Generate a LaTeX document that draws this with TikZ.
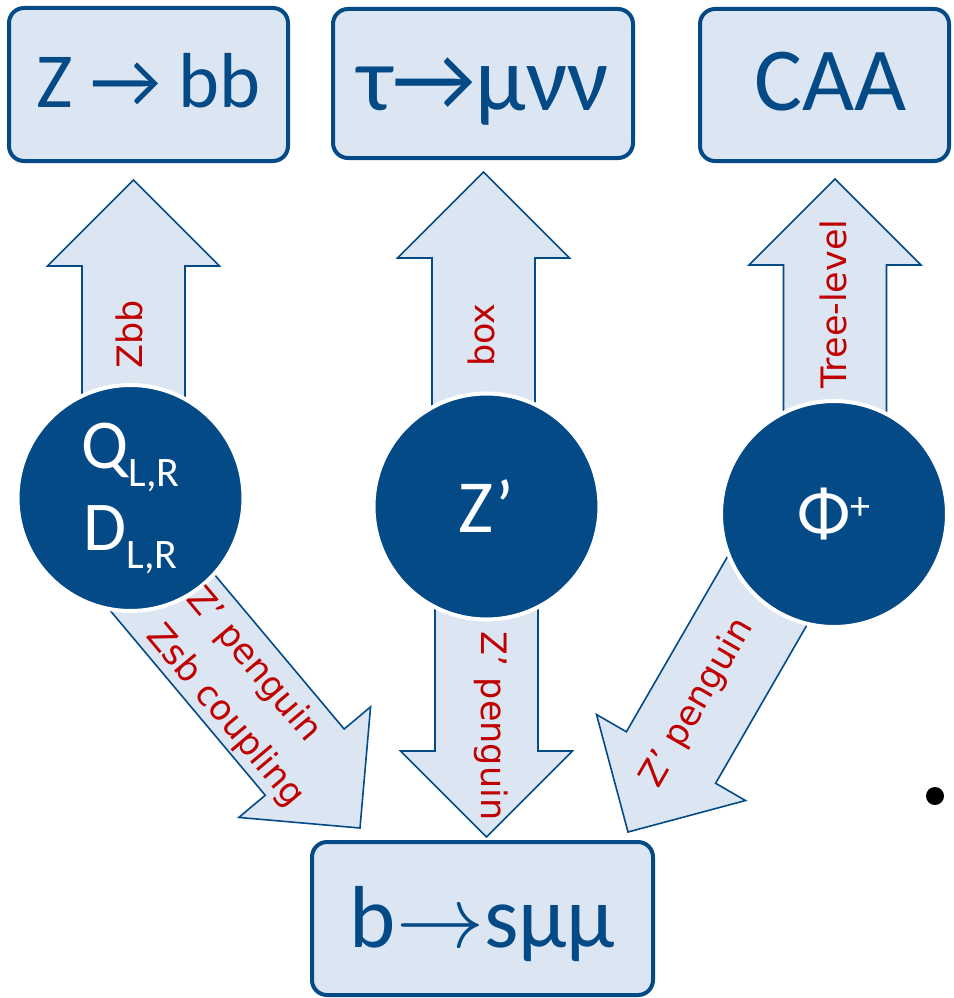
\documentclass[tikz,border=0pt]{standalone}
\usepackage{graphicx}
\usepackage{fontspec}
\setmainfont{Carlito}
\newfontfamily\labfont{DejaVu Sans}
\usetikzlibrary{calc}
\definecolor{dblue}{RGB}{4,74,135}
\definecolor{lblue}{RGB}{220,230,242}
\definecolor{lred}{RGB}{192,0,0}
\pgfdeclarelayer{paper}
\pgfdeclarelayer{bg}
\pgfsetlayers{paper,bg,main}
\newcommand\fatarr[3]{%
  \coordinate (#3hb) at ($(#2)!86pt!(#1)$);
  \draw[blockarrow] ($(#1)!51.5pt!90:(#2)$) -- ($(#3hb)!51.5pt!90:(#2)$)
    -- ($(#3hb)!86pt!90:(#2)$) -- (#2) -- ($(#3hb)!86pt!-90:(#2)$)
    -- ($(#3hb)!51.5pt!-90:(#2)$) -- ($(#1)!51.5pt!-90:(#2)$) -- cycle;
}
\newcommand\bigto{\scalebox{8.8}{\fontsize{10}{12}\selectfont$\rightarrow$}}
\tikzset{
  boxnode/.style={draw=dblue, fill=lblue, line width=4pt, rounded corners=15pt, inner sep=0pt, text=dblue},
  ball/.style={circle, fill=dblue, draw=white, line width=4pt, minimum size=226pt, inner sep=0pt, text=white},
  blockarrow/.style={draw=dblue, fill=lblue, line width=1.6pt, line join=miter},
  lab/.style={text=lred, font=\labfont\fontsize{35}{42}\selectfont, inner sep=0pt},
}
\begin{document}
\begin{tikzpicture}[x=1pt,y=-1pt]
\begin{pgfonlayer}{paper}
  \fill[white] (0,0) rectangle (953,998);
\end{pgfonlayer}
\useasboundingbox (0,0) rectangle (953,998);
% boxes
\node[boxnode, minimum width=279pt, minimum height=153pt, text height=45pt, text depth=0pt,
      font=\fontsize{78}{90}\selectfont] (box1) at (148.5,84.5) {Z → bb};
\node[boxnode, minimum width=300pt, minimum height=149pt, text height=53pt, text depth=0pt,
      font=\fontsize{92}{100}\selectfont] (box2) at (483,83.5) {τ→μνν};
\node[boxnode, minimum width=249pt, minimum height=152pt, text height=50pt, text depth=0pt,
      font=\fontsize{90}{100}\selectfont] (box3) at (824.5,85) {\kern12pt CAA};
\node[boxnode, minimum width=341pt, minimum height=153pt, text height=57pt, text depth=0pt,
      font=\fontsize{88}{100}\selectfont] (bsmm) at (482.5,918.5) {b\bigto sμμ};
% circles
\node[ball, font=\fontsize{70}{82}\selectfont, align=center] (c1) at (130.5,498)
  {Q\raisebox{-18pt}{\fontsize{42}{42}\selectfont L,R}\\D\raisebox{-18pt}{\fontsize{42}{42}\selectfont L,R}};
\node[ball, font=\fontsize{75}{80}\selectfont] (c2) at (486.5,506.5) {Z’};
\node[ball, font=\fontsize{70}{80}\selectfont] (c3) at (834,514) {Φ\raisebox{17pt}{\fontsize{40}{40}\selectfont +}};
% connector end points
\coordinate (s1) at ($(c1.center)+(3,0)$);
\coordinate (t1) at ($(box1.center)+(-15,95.5)$);
\coordinate (s2) at ($(c2.center)+(-3,0)$);
\coordinate (t2) at ($(box2.center)+(0.5,88.5)$);
\coordinate (s3) at ($(c3.center)+(1,0)$);
\coordinate (t3) at ($(box3.center)+(10.5,94)$);
\coordinate (s4) at ($(c1.center)+(10.9,69.6)$);
\coordinate (t4) at ($(bsmm.center)+(-122.5,-90.5)$);
\coordinate (s5) at (c2.center);
\coordinate (t5) at ($(bsmm.center)+(4,-81.5)$);
\coordinate (s6) at ($(c3.center)+(-41,32.2)$);
\coordinate (t6) at ($(bsmm.center)+(145.5,-86.5)$);
\begin{pgfonlayer}{bg}
  \fatarr{s1}{t1}{a}
  \fatarr{s2}{t2}{b}
  \fatarr{s3}{t3}{c}
  \fatarr{s4}{t4}{d}
  \fatarr{s5}{t5}{e}
  \fatarr{s6}{t6}{f}
\end{pgfonlayer}
% labels
\node[lab, rotate=90, anchor=base] (lzbb) at (142,334) {Zbb};
\node[lab, rotate=90, anchor=base] (lbox) at (494,335) {box};
\node[lab, rotate=90, anchor=base] (ltree) at (846,304) {Tree-level};
\node[lab, rotate=-90, anchor=base] (lzpm) at (481.5,726) {Z’ penguin};
\node[lab, rotate=60, anchor=base] (lzpr) at (706,708) {Z’ penguin};
\node[lab, rotate=-50, anchor=base west] (lzpl) at (185.3,599.2) {Z’ penguin};
\node[lab, rotate=-50, anchor=base west] (lzsb) at (145.3,636.1) {Zsb coupling};
% stray bullet
\node[circle, fill=black, minimum size=18pt, inner sep=0pt] (dot) at (935,796) {};
\end{tikzpicture}
\end{document}
